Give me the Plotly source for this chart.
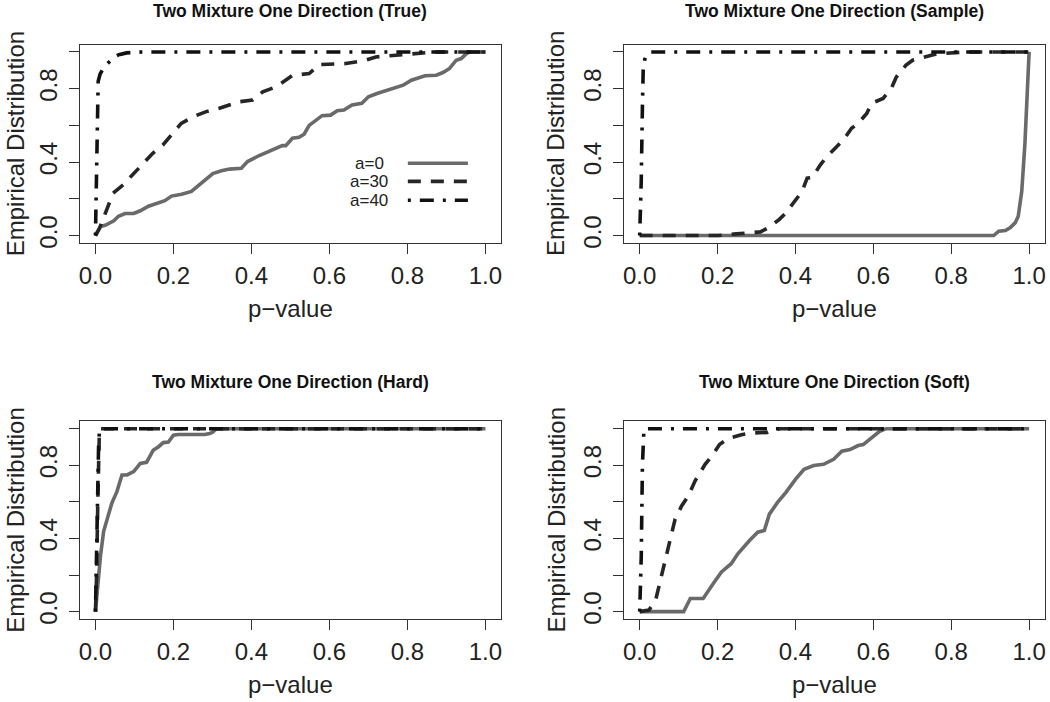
import plotly.graph_objects as go

# ---------------- data ----------------
titles = ["Two Mixture One Direction (True)", "Two Mixture One Direction (Sample)",
          "Two Mixture One Direction (Hard)", "Two Mixture One Direction (Soft)"]
series_names = ["a=0", "a=30", "a=40"]
tick_vals = [0, 0.2, 0.4, 0.6, 0.8, 1.0]
x_tick_text = ["0.0", "0.2", "0.4", "0.6", "0.8", "1.0"]
y_tick_text = ["0.0", "", "0.4", "", "0.8", ""]

true_a0_x = [0, 0.013, 0.025, 0.047, 0.059, 0.076, 0.098, 0.115, 0.136, 0.161, 0.178, 0.195, 0.221, 0.246, 0.272,
             0.301, 0.323, 0.344, 0.374, 0.39, 0.42, 0.445, 0.479, 0.488, 0.505, 0.522, 0.535, 0.548, 0.565, 0.581,
             0.603, 0.62, 0.637, 0.658, 0.683, 0.7, 0.722, 0.747, 0.772, 0.789, 0.81, 0.832, 0.845, 0.874, 0.891,
             0.908, 0.925, 0.938, 0.951, 0.96, 1.0]
true_a0_y = [0, 0.05, 0.056, 0.08, 0.105, 0.12, 0.12, 0.135, 0.16, 0.18, 0.19, 0.215, 0.225, 0.24, 0.285,
             0.338, 0.353, 0.362, 0.367, 0.403, 0.436, 0.461, 0.49, 0.49, 0.53, 0.535, 0.552, 0.6, 0.63, 0.653,
             0.656, 0.68, 0.684, 0.711, 0.72, 0.756, 0.774, 0.792, 0.81, 0.819, 0.846, 0.859, 0.87, 0.873, 0.888,
             0.91, 0.955, 0.964, 0.991, 1.0, 1.0]
true_a30_x = [0, 0.011, 0.024, 0.045, 0.071, 0.096, 0.122, 0.147, 0.173, 0.199, 0.22, 0.25, 0.284, 0.318, 0.369,
              0.403, 0.429, 0.463, 0.488, 0.506, 0.548, 0.574, 0.642, 0.693, 0.719, 0.778, 0.829, 0.871, 1.0]
true_a30_y = [0, 0.042, 0.114, 0.23, 0.276, 0.331, 0.394, 0.448, 0.494, 0.557, 0.611, 0.647, 0.675, 0.693, 0.729,
              0.738, 0.783, 0.81, 0.846, 0.873, 0.882, 0.931, 0.937, 0.955, 0.973, 0.982, 0.991, 1.0, 1.0]
true_a40_x = [0, 0.002, 0.004, 0.007, 0.012, 0.02, 0.03, 0.04, 0.05, 0.06, 0.08, 0.12, 1.0]
true_a40_y = [0, 0.3, 0.7, 0.84, 0.88, 0.91, 0.935, 0.955, 0.975, 0.985, 0.995, 1.0, 1.0]

sample_a0_x = [0, 0.909, 0.922, 0.939, 0.951, 0.964, 0.972, 0.981, 0.989, 0.996, 1.0]
sample_a0_y = [0, 0, 0.024, 0.027, 0.042, 0.069, 0.105, 0.24, 0.494, 0.801, 1.0]
sample_a30_x = [0, 0.2, 0.248, 0.27, 0.31, 0.328, 0.358, 0.375, 0.4, 0.417, 0.43, 0.443, 0.464, 0.477, 0.502,
                0.523, 0.544, 0.561, 0.583, 0.595, 0.625, 0.646, 0.659, 0.684, 0.701, 0.722, 0.756, 0.777, 0.803,
                0.837, 1.0]
sample_a30_y = [0, 0, 0.009, 0.014, 0.02, 0.04, 0.087, 0.123, 0.195, 0.24, 0.313, 0.316, 0.385, 0.421, 0.476,
                0.521, 0.584, 0.611, 0.665, 0.72, 0.747, 0.801, 0.864, 0.928, 0.955, 0.967, 0.986, 0.991, 0.996,
                1.0, 1.0]
sample_a40_x = [0, 0.004, 0.007, 0.009, 0.013, 0.019, 0.028, 1.0]
sample_a40_y = [0, 0.3, 0.7, 0.9, 0.96, 0.99, 1.0, 1.0]

hard_a0_x = [0, 0.004, 0.008, 0.013, 0.021, 0.034, 0.042, 0.055, 0.068, 0.081, 0.098, 0.115, 0.131, 0.148, 0.161,
             0.174, 0.187, 0.2, 0.212, 0.28, 0.293, 0.301, 0.31, 1.0]
hard_a0_y = [0, 0.096, 0.2, 0.307, 0.439, 0.53, 0.593, 0.656, 0.747, 0.747, 0.765, 0.81, 0.816, 0.882, 0.9,
             0.924, 0.927, 0.964, 0.968, 0.968, 0.973, 0.982, 1.0, 1.0]
hard_a30_x = [0, 0.003, 0.006, 0.008, 0.01, 0.012, 1.0]
hard_a30_y = [0, 0.2, 0.6, 0.9, 0.98, 1.0, 1.0]
hard_a40_x = [0, 0.002, 0.005, 0.008, 0.01, 0.012, 1.0]
hard_a40_y = [0, 0.25, 0.65, 0.9, 0.98, 1.0, 1.0]

soft_a0_x = [0, 0.113, 0.13, 0.163, 0.189, 0.21, 0.235, 0.252, 0.282, 0.303, 0.32, 0.333, 0.354, 0.375, 0.4,
             0.422, 0.447, 0.472, 0.498, 0.519, 0.54, 0.561, 0.574, 0.595, 0.616, 0.633, 1.0]
soft_a0_y = [0, 0, 0.072, 0.072, 0.154, 0.217, 0.262, 0.316, 0.389, 0.434, 0.443, 0.533, 0.597, 0.651, 0.723,
             0.778, 0.799, 0.805, 0.833, 0.877, 0.886, 0.908, 0.913, 0.949, 0.986, 1.0, 1.0]
soft_a30_x = [0, 0.024, 0.041, 0.057, 0.074, 0.091, 0.108, 0.125, 0.142, 0.168, 0.185, 0.205, 0.227, 0.261, 0.286,
              0.328, 0.345, 0.362, 1.0]
soft_a30_y = [0, 0.009, 0.063, 0.2, 0.362, 0.506, 0.579, 0.633, 0.714, 0.805, 0.85, 0.913, 0.946, 0.967, 0.976,
              0.98, 0.995, 1.0, 1.0]
soft_a40_x = [0, 0.004, 0.007, 0.009, 0.011, 1.0]
soft_a40_y = [0, 0.3, 0.8, 0.97, 1.0, 1.0]

panels = [
    [(true_a0_x, true_a0_y), (true_a30_x, true_a30_y), (true_a40_x, true_a40_y)],
    [(sample_a0_x, sample_a0_y), (sample_a30_x, sample_a30_y), (sample_a40_x, sample_a40_y)],
    [(hard_a0_x, hard_a0_y), (hard_a30_x, hard_a30_y), (hard_a40_x, hard_a40_y)],
    [(soft_a0_x, soft_a0_y), (soft_a30_x, soft_a30_y), (soft_a40_x, soft_a40_y)],
]

# ---------------- styling ----------------
W, H = 1050, 702
FONT = "Liberation Sans, Arial, Helvetica, sans-serif"
line_styles = [
    dict(color="#6a6a6a", width=3.6, dash="solid"),
    dict(color="#262626", width=3.6, dash="13px,10px"),
    dict(color="#111111", width=3.6, dash="3px,9px,14px,9px"),
]
# plot boxes in pixels: (left, right, top, bottom)
boxes = [(79, 501, 45, 245), (624.3, 1045.7, 45, 245),
         (79, 501, 425, 624.3), (624.3, 1045.7, 425, 624.3)]

fig = go.Figure()
layout = dict(width=W, height=H, margin=dict(l=0, r=0, t=0, b=0),
              paper_bgcolor="white", plot_bgcolor="white", showlegend=False,
              font=dict(family=FONT, color="#222222"))
annotations = []
shapes = []

for i, (box, series) in enumerate(zip(boxes, panels)):
    L, R, T, B = box
    sx = "" if i == 0 else str(i + 1)
    for (xs, ys), st, nm in zip(series, line_styles, series_names):
        fig.add_trace(go.Scatter(x=xs, y=ys, mode="lines", name=nm, line=st,
                                 xaxis="x" + sx, yaxis="y" + sx, hoverinfo="skip"))
    axcommon = dict(range=[-0.04, 1.04], showgrid=False, zeroline=False, showline=True, mirror=True,
                    linecolor="#333333", linewidth=1.2, ticks="outside", ticklen=10, tickwidth=1.2,
                    tickcolor="#333333", tickvals=tick_vals, ticklabeloverflow="allow",
                    tickfont=dict(family=FONT, size=24, color="#222222"))
    layout["xaxis" + sx] = dict(axcommon, domain=[L / W, R / W], anchor="y" + sx,
                                ticktext=x_tick_text, ticklabelstandoff=1)
    layout["yaxis" + sx] = dict(axcommon, domain=[1 - B / H, 1 - T / H], anchor="x" + sx,
                                ticktext=y_tick_text, tickangle=-90, ticklabelstandoff=2)
    cx = (L + R) / 2
    # title
    if T < 100:
        annotations.append(dict(text="<b>" + titles[i] + "</b>", x=cx / W, y=1.0,
                                xref="paper", yref="paper", showarrow=False, xanchor="center", yanchor="top",
                                borderpad=0, font=dict(family=FONT, size=17.5, color="#111111")))
    else:
        annotations.append(dict(text="<b>" + titles[i] + "</b>", x=cx / W, y=1 - (T - 40) / H,
                                xref="paper", yref="paper", showarrow=False, xanchor="center", yanchor="middle",
                                font=dict(family=FONT, size=17.5, color="#111111")))
    # x axis title
    annotations.append(dict(text="p\u2212value", x=cx / W, y=1 - (B + 66) / H,
                            xref="paper", yref="paper", showarrow=False, xanchor="center", yanchor="middle",
                            font=dict(family=FONT, size=24, color="#222222")))
    # y axis title
    if L < 100:
        annotations.append(dict(text="Empirical Distribution", x=0.0, y=1 - ((T + B) / 2) / H,
                                xref="paper", yref="paper", showarrow=False, xanchor="left", yanchor="middle",
                                borderpad=0, textangle=-90, font=dict(family=FONT, size=24, color="#222222")))
    else:
        annotations.append(dict(text="Empirical Distribution", x=(L - 68) / W, y=1 - ((T + B) / 2) / H,
                                xref="paper", yref="paper", showarrow=False, xanchor="center", yanchor="middle",
                                textangle=-90, font=dict(family=FONT, size=24, color="#222222")))

# legend inside first panel (data coordinates of panel 1)
legend_y = [0.394, 0.295, 0.192]
for nm, st, ly in zip(series_names, line_styles, legend_y):
    annotations.append(dict(text=nm, x=0.7015, y=ly, xref="x", yref="y", showarrow=False,
                            xanchor="center", yanchor="middle",
                            font=dict(family=FONT, size=17, color="#222222")))
    shapes.append(dict(type="line", xref="x", yref="y", x0=0.801, x1=0.955, y0=ly, y1=ly,
                       line=dict(color=st["color"], width=st["width"], dash=st["dash"])))

layout["annotations"] = annotations
layout["shapes"] = shapes
fig.update_layout(**layout)
fig.write_html("out.html", config={"displayModeBar": False},
               post_script="document.body.style.margin='0';document.body.style.overflow='hidden';")
